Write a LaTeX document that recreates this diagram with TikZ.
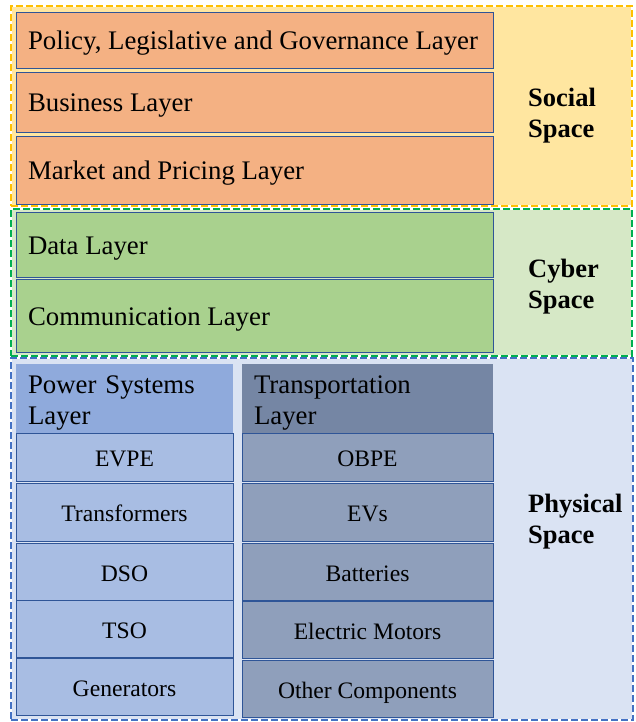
\documentclass[tikz,border=0pt]{standalone}
\usepackage{fontspec}
\setmainfont{Liberation Serif}
\usetikzlibrary{positioning}

\definecolor{socialline}{RGB}{255,192,0}
\definecolor{socialfill}{RGB}{255,230,160}
\definecolor{cyberline}{RGB}{0,176,80}
\definecolor{cyberfill}{RGB}{214,232,198}
\definecolor{physline}{RGB}{68,114,196}
\definecolor{physfill}{RGB}{218,227,243}
\definecolor{boxline}{RGB}{47,85,151}
\definecolor{orangebox}{RGB}{244,177,131}
\definecolor{greenbox}{RGB}{169,209,142}
\definecolor{pwrhead}{RGB}{143,170,220}
\definecolor{pwritem}{RGB}{168,189,227}
\definecolor{trnhead}{RGB}{117,134,164}
\definecolor{trnitem}{RGB}{143,159,187}

\tikzset{
  spacebox/.style={anchor=north west, inner sep=0pt, outer sep=0pt, fill=#1fill,
    draw=white, line width=2.3pt,
    postaction={draw=#1line, line width=2.3pt, dash pattern=on 7pt off 3pt}},
  spacelabel/.style={anchor=west, align=left, inner sep=0pt,
    font=\fontsize{26.5}{31}\selectfont\bfseries},
  layerbox/.style={anchor=north west, draw=boxline, line width=0.8pt, outer sep=0pt,
    inner xsep=12pt, inner ysep=0pt, minimum width=477pt, text height=25pt, text depth=5.5pt,
    font=\fontsize{26.8}{31}\selectfont,
    execute at begin node={\hbox to 453pt\bgroup}, execute at end node={\hfil\egroup}},
  headbox/.style={anchor=north west, outer sep=0pt, inner xsep=12pt, inner ysep=0pt,
    minimum height=69pt, align=left, font=\fontsize{26.8}{31}\selectfont,
    execute at begin node={\rule{0pt}{26pt}}},
  itembox/.style={draw=boxline, line width=0.8pt, outer sep=0pt, inner sep=0pt,
    text height=22pt, text depth=3pt, font=\fontsize{23.6}{28}\selectfont},
}

\begin{document}
\begin{tikzpicture}[x=1pt, y=-1pt]
  \useasboundingbox[fill=white] (0,0) rectangle (635,722);

  % the three spaces
  \node[spacebox=social, minimum width=621pt, minimum height=200pt] (social) at (11,6) {};
  \node[spacebox=cyber, minimum width=621pt, minimum height=147pt] (cyber) at (11,209) {};
  \node[spacebox=phys, minimum width=622pt, minimum height=362pt] (phys) at (11,358) {};

  % social space
  \node[layerbox, fill=orangebox, minimum height=56pt] (policy) at (16,12) {Policy, Legislative and Governance Layer};
  \node[layerbox, fill=orangebox, minimum height=60pt, below=4pt of policy.south west, anchor=north west] (business) {Business Layer};
  \node[layerbox, fill=orangebox, minimum height=68pt, below=4pt of business.south west, anchor=north west] (market) {Market and Pricing Layer};
  \node[spacelabel] (sociallbl) at (528,116) {Social\\Space};

  % cyber space
  \node[layerbox, fill=greenbox, minimum height=65pt] (data) at (16,212) {Data Layer};
  \node[layerbox, fill=greenbox, minimum height=73pt, below=2pt of data.south west, anchor=north west] (comm) {Communication Layer};
  \node[spacelabel] (cyberlbl) at (528,287) {Cyber\\Space};

  % physical space
  \node[headbox, fill=pwrhead, minimum width=217pt, text width=193pt] (power) at (16,364) {Power Systems\\Layer};
  \node[headbox, fill=trnhead, minimum width=251pt, text width=227pt] (transport) at (242,364) {Transportation\\Layer};
  \node[spacelabel] (physlbl) at (528,522) {Physical\\Space};

  \tikzset{pwr/.style={itembox, fill=pwritem, minimum width=217pt}}
  \node[pwr, minimum height=48pt, below=0pt of power] (evpe) {EVPE};
  \node[pwr, minimum height=58pt, below=2pt of evpe] (trafo) {Transformers};
  \node[pwr, minimum height=57pt, below=2pt of trafo] (dso) {DSO};
  \node[pwr, minimum height=57pt, below=0pt of dso] (tso) {TSO};
  \node[pwr, minimum height=57pt, below=1pt of tso] (gen) {Generators};

  \tikzset{trn/.style={itembox, fill=trnitem, minimum width=251pt}}
  \node[trn, minimum height=48pt, below=0pt of transport] (obpe) {OBPE};
  \node[trn, minimum height=58pt, below=2pt of obpe] (evs) {EVs};
  \node[trn, minimum height=57pt, below=2pt of evs] (batt) {Batteries};
  \node[trn, minimum height=57pt, below=1pt of batt] (motor) {Electric Motors};
  \node[trn, minimum height=57pt, below=2pt of motor] (other) {Other Components};
\end{tikzpicture}
\end{document}
